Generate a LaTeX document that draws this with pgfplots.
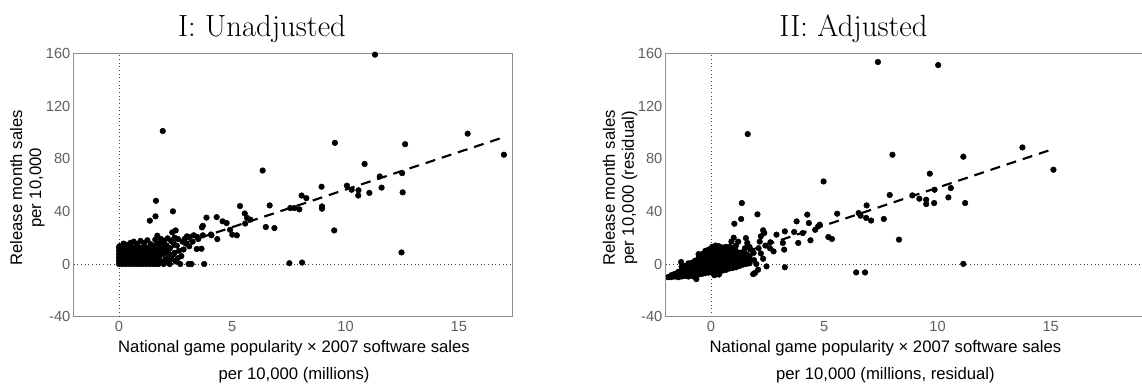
\documentclass[border=0pt]{standalone}
\usepackage{pgfplots}
\pgfplotsset{compat=1.18}
\usepackage{fontspec}
\newfontfamily\lab{Liberation Sans}

\definecolor{framegray}{RGB}{140,140,140}
\definecolor{tickgray}{RGB}{95,95,95}

\pgfplotsset{
  panel/.style={
    scale only axis,
    height=197.5pt,
    ymin=-40, ymax=160,
    ytick={-40,0,40,80,120,160},
    xtick={0,5,10,15},
    major tick length=0pt,
    axis line style={framegray, line width=0.7pt},
    /pgf/number format/assume math mode=true,
    ticklabel style={font=\lab\fontsize{11}{13}\selectfont, text=tickgray},
    yticklabel style={xshift=1pt},
    clip=false,
  },
  dots/.style={only marks, mark=*, mark size=2.1pt, black, mark options={draw=black, fill=black}},
  zeroline/.style={black!75, line width=0.75pt, dash pattern=on 0.75pt off 2pt},
  fitline/.style={black, line width=1.6pt, dash pattern=on 7.5pt off 5.25pt},
}

\begin{document}
\begin{tikzpicture}
\useasboundingbox (0,0) rectangle (856.5pt,-288.75pt);

% ---------------- Panel I ----------------
\begin{axis}[panel, name=axA, at={(55.3pt,-237.5pt)}, anchor=south west,
  width=329.25pt, xmin=-2, xmax=17.38]
\addplot[zeroline] coordinates {(-2,0) (17.38,0)};
\addplot[zeroline] coordinates {(0,-40) (0,160)};
\addplot[dots] coordinates {
% dense block of small titles
(0,0)(0.15,0)(0.3,0)(0.45,0)(0.6,0)(0.75,0)(0.9,0)(1.05,0)(1.2,0)(1.35,0)(1.5,0)
(0,2.5)(0.15,2.5)(0.3,2.5)(0.45,2.5)(0.6,2.5)(0.75,2.5)(0.9,2.5)(1.05,2.5)(1.2,2.5)(1.35,2.5)(1.5,2.5)
(0,5)(0.15,5)(0.3,5)(0.45,5)(0.6,5)(0.75,5)(0.9,5)(1.05,5)(1.2,5)(1.35,5)(1.5,5)
(0,7.5)(0.15,7.5)(0.3,7.5)(0.45,7.5)(0.6,7.5)(0.75,7.5)(0.9,7.5)(1.05,7.5)(1.2,7.5)(1.35,7.5)(1.5,7.5)
(0,10)(0.15,10)(0.3,10)(0.45,10)(0.6,10)(0.75,10)(0.9,10)(1.05,10)(1.2,10)(1.35,10)(1.5,10)
(0,12.5)(0.15,12.5)(0.3,12.5)(0.45,12.5)(0.6,12.5)(0.75,12.5)(0.9,12.5)(1.05,12.5)(1.2,12.5)(1.35,12.5)(1.5,11)
(0.02,13.5)(0.2,15.5)(0.35,14.5)(0.5,16)(0.65,17)(0.8,15)(0.95,17.5)(1.1,16)(1.25,18)(1.4,15)(1.55,14)
(1.6,0)(1.62,4)(1.65,8)(1.7,11)(1.75,2)(1.8,6)(1.72,15.5)(1.6,18.5)
% mid cloud
(1.69,21.5)(1.85,19)(2.0,17.7)(2.1,14)(1.9,12)(2.05,9)(2.2,7.6)(2.3,3.8)(2.5,2.5)(2.7,0)
(1.9,1.3)(2.1,3.8)(1.96,7.6)(2.25,12)(2.4,16)(2.45,20)(2.55,14)(2.65,10)(2.75,6)(2.35,24)
(2.5,25.5)(2.6,19)(2.8,17)(2.9,19)(3.1,20.5)(3.3,21.8)(3.5,19)(3.43,11.4)(3.2,0)(3.07,0)
(3.76,0)(2.85,11)(3.1,13.4)(3.0,21)(2.17,11)(2.38,7)(1.74,0)(1.97,0)(2.24,0)(1.77,3.3)
(2.04,3.3)(2.5,2)(1.8,15)(2.15,19.5)(3.64,11.6)(3.46,20.5)(3.7,21.8)(3.7,29)(3.66,27.8)
(1.95,15.5)(2.3,17.5)(2.0,11.5)(2.45,8.5)(2.6,4.5)(2.95,15.5)(3.25,17)(2.2,0.5)(1.85,9.5)
% upper scatter
(1.63,48)(1.61,36.2)(1.36,32.9)(2.38,40)(3.86,35.2)(4.31,35.6)(4.57,32.4)(4.75,31.1)
(4.9,26)(5.0,22.3)(5.2,21.8)(4.06,22.4)(4.34,18.9)(4.08,21.8)(5.34,44)(6.65,44.5)(6.34,71)
(5.55,38.4)(5.65,35)(5.8,33.7)(5.57,30.7)(6.48,28.1)(6.86,27.3)
(7.52,0.6)(8.08,1.1)(7.56,42.5)(7.74,42.5)(7.96,41.5)(8.06,52)(8.27,50)(8.96,43.7)(8.96,42)
(8.94,58.7)(9.53,92)(9.5,25.5)(10.06,59.5)(10.27,56.4)(10.57,56)(10.56,52)(10.84,76)(11.05,54)
(11.3,159)(11.51,66.5)(11.59,58)(12.47,8.8)(12.5,69)(12.52,54.4)(12.63,91)(15.39,99)(16.99,83)
(1.93,101)
};
\addplot[fitline] coordinates {(0,-0.5) (17,96.4)};
\end{axis}

% ---------------- Panel II ----------------
\begin{axis}[panel, name=axB, at={(499.3pt,-237.5pt)}, anchor=south west,
  width=357.2pt, xmin=-2, xmax=19.03, axis line style={draw=none}]
\addplot[zeroline] coordinates {(-2,0) (19.03,0)};
\addplot[zeroline] coordinates {(0,-40) (0,160)};
\addplot[dots] coordinates {
% main cloud around the origin
(-1.9,-10)(-1.75,-10)(-1.75,-8.5)(-1.6,-9.5)(-1.6,-7.5)(-1.45,-10)(-1.45,-8)(-1.45,-6)
(-1.3,-9.5)(-1.3,-7)(-1.3,-5)(-1.3,-2)(-1.32,1.5)(-1.15,-9)(-1.15,-6.5)(-1.15,-4)(-1.15,-1.5)
(-1.0,-9.5)(-1.0,-7)(-1.0,-4.5)(-1.0,-2)(-1.0,0.5)(-0.85,-9)(-0.85,-6.5)(-0.85,-4)(-0.85,-1.5)(-0.85,1)
(-0.7,-10)(-0.7,-8)(-0.7,-5.5)(-0.7,-3)(-0.7,-0.5)(-0.7,2.5)(-0.65,-11.5)
(-0.55,-8)(-0.55,-5.5)(-0.55,-3)(-0.55,-0.5)(-0.55,2)(-0.55,4.5)(-0.55,7.5)
(-0.4,-7.5)(-0.4,-5)(-0.4,-2.5)(-0.4,0)(-0.4,2.5)(-0.4,5)(-0.4,7.5)
(-0.25,-7)(-0.25,-4.5)(-0.25,-2)(-0.25,0.5)(-0.25,3)(-0.25,5.5)(-0.25,8)(-0.25,10)
(-0.1,-6.5)(-0.1,-4)(-0.1,-1.5)(-0.1,1)(-0.1,3.5)(-0.1,6)(-0.1,8.5)(-0.1,11)
(0.05,-6.5)(0.05,-4)(0.05,-1.5)(0.05,1)(0.05,3.5)(0.05,6)(0.05,8.5)(0.05,11)(0.05,13)
(0.2,-6)(0.2,-3.5)(0.2,-1)(0.2,1.5)(0.2,4)(0.2,6.5)(0.2,9)(0.2,11.5)(0.2,14)
(0.35,-5.5)(0.35,-3)(0.35,-0.5)(0.35,2)(0.35,4.5)(0.35,7)(0.35,9.5)(0.35,12)(0.35,13.5)
(0.5,-5)(0.5,-2.5)(0.5,0)(0.5,2.5)(0.5,5)(0.5,7.5)(0.5,10)(0.5,12.5)
(0.65,-4.5)(0.65,-2)(0.65,0.5)(0.65,3)(0.65,5.5)(0.65,8)(0.65,10.5)(0.65,13)
(0.8,-3.5)(0.8,-1)(0.8,1.5)(0.8,4)(0.8,6.5)(0.8,9)(0.8,11.5)(0.8,13)
(0.95,-3)(0.95,-0.5)(0.95,2)(0.95,4.5)(0.95,7)(0.95,9.5)(0.95,12)
(1.1,-2.5)(1.1,0)(1.1,2.5)(1.1,5)(1.1,7.5)(1.1,10)
(1.25,-1.5)(1.25,1)(1.25,3.5)(1.25,6)(1.25,8.5)
(1.4,-0.5)(1.4,2)(1.4,4.5)(1.4,7)(1.4,9)
(1.55,0)(1.55,2.5)(1.55,5)(1.55,7.5)(1.7,0.5)(1.7,3)(1.7,6)
(0.15,-8.5)(0.35,-8)
% middle range
(1.36,46.3)(1.33,34.2)(1.03,30.6)(2.05,37.7)(2.35,23.5)(2.3,25.6)(2.2,21)(2.15,17)(2.1,12)
(2.2,8)(2.3,4)(1.54,19.7)(1.6,16)(1.74,10.9)(1.88,8.4)(2.62,16.5)(2.89,22.3)(2.76,9.6)
(3.26,24.8)(3.17,16)(3.23,10.9)(3.26,-2.5)(2.45,-1.8)(1.94,-6.8)(2.08,-4.3)(3.67,24.3)
(3.85,16)(3.78,32.4)(4.05,23.5)(4.32,31.1)(4.25,37.5)(4.39,18)(4.6,26)(4.73,28.6)(4.8,29.9)
(5.18,20.5)(5.34,19)(5.57,38.2)(4.97,62.7)(1.62,98.7)(1.86,-7.7)(1.0,20)(1.2,17)(1.7,13)
(1.9,3)(2.0,0)(2.6,12)(2.4,14)(1.1,14)(1.5,12)(0.9,17)
% upper range
(6.41,-6.4)(6.8,-6.4)(6.52,38.7)(6.6,36.7)(6.87,44.5)(6.85,35)(7.07,33)(7.63,34.2)(7.37,153.4)
(7.89,52.4)(8.01,83)(8.3,18.5)(8.89,52.1)(9.2,49.6)(9.5,48.8)(9.5,45.5)(9.66,68.6)(9.87,56.4)
(9.85,46.3)(10.03,151.1)(10.48,50.6)(10.59,57.7)(11.14,81.5)(11.14,0.1)(11.22,46.3)
(13.75,88.5)(15.12,71.6)
};
\addplot[fitline] coordinates {(-1.9,-10.4) (15.12,87.4)};
\end{axis}

% frames
\draw[framegray, line width=0.7pt] (axB.north east) -- (axB.north west) -- (axB.south west) -- (axB.south east);

% titles
\node[anchor=base, font=\fontsize{23}{27}\selectfont] at (196.5pt,-27.75pt) {I: Unadjusted};
\node[anchor=base, font=\fontsize{23}{27}\selectfont] at (640.1pt,-27.75pt) {II: Adjusted};

% axis labels
\begin{scope}[every node/.style={font=\lab\fontsize{12.5}{14.25}\selectfont}]
\node[anchor=base] at (220.5pt,-264.4pt) {National game popularity × 2007 software sales};
\node[anchor=base] at (220.5pt,-284.6pt) {per 10,000 (millions)};
\node[anchor=base] at (664.1pt,-264.4pt) {National game popularity × 2007 software sales};
\node[anchor=base] at (664.1pt,-284.6pt) {per 10,000 (millions, residual)};
\node[rotate=90, align=center] at (20.4pt,-141pt) {Release month sales\\per 10,000};
\node[rotate=90, align=center] at (465pt,-141pt) {Release month sales\\per 10,000 (residual)};
\end{scope}
\end{tikzpicture}
\end{document}
